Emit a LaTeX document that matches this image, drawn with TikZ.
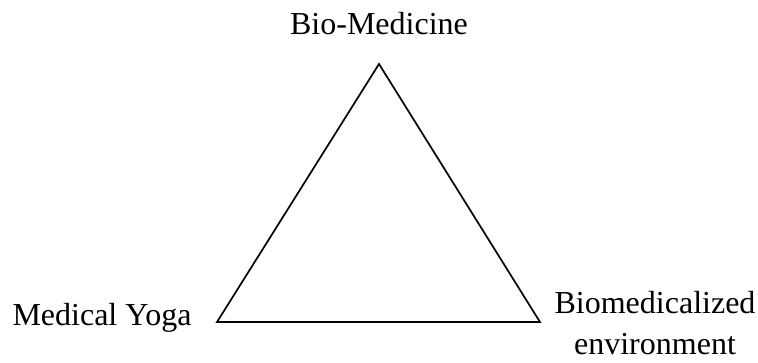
\documentclass[tikz,border=0pt]{standalone}
\usepackage{fontspec}
\setmainfont{Liberation Serif}
\begin{document}
\begin{tikzpicture}[x=1pt,y=-1pt,
  lbl/.style={font=\fontsize{32}{41}\selectfont, inner sep=0pt, anchor=base},
  edge/.style={line width=1.7pt, line join=miter}]
\useasboundingbox (0,0) rectangle (758,363);
\coordinate (top) at (379,64);
\coordinate (bl) at (217,322);
\coordinate (br) at (540,322);
\draw[edge] (top) -- (bl) -- (br) -- cycle;
\node[lbl] (bm) at (379,35) {Bio-Medicine};
\node[lbl] (my) at (102,326) {Medical Yoga};
\node[lbl, align=center] (be) at (655,355) {Biomedicalized\\environment};
\end{tikzpicture}
\end{document}
